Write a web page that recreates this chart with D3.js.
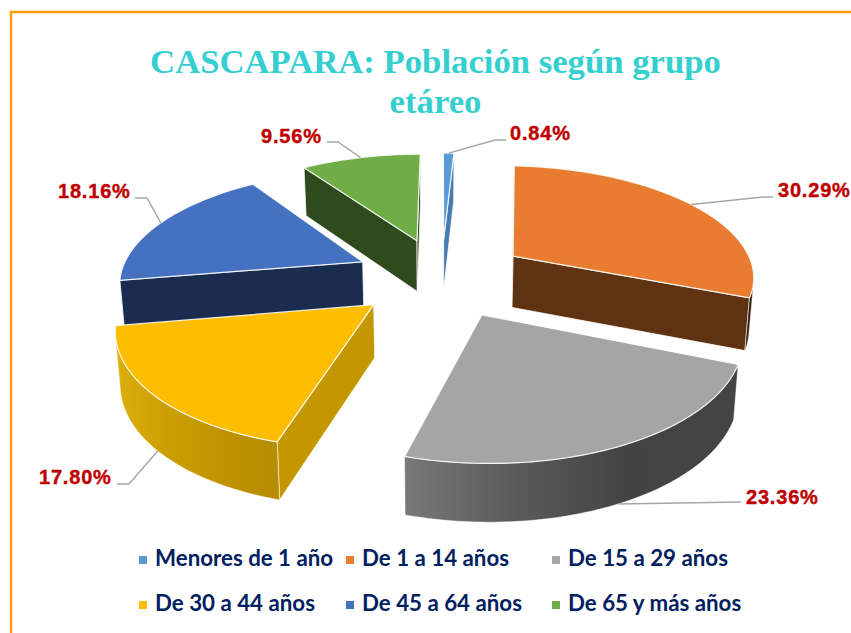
<!DOCTYPE html>
<html lang="es">
<head>
<meta charset="utf-8">
<title>CASCAPARA: Población según grupo etáreo</title>
<script src="https://cdn.jsdelivr.net/npm/d3@7"></script>
<style>
  html, body { margin: 0; background: #fff; overflow: hidden; }
  svg { display: block; }
</style>
</head>
<body>
<div id="chart"></div>
<script>
// data
const groups = ["Menores de 1 año", "De 1 a 14 años", "De 15 a 29 años", "De 30 a 44 años", "De 45 a 64 años", "De 65 y más años"];
const shares = [0.84, 30.29, 23.36, 17.80, 18.16, 9.56];
const titleLines = ["CASCAPARA: Población según grupo", "etáreo"];

// colours
const topColors = ["#5b9bd5", "#e97c30", "#a5a5a5", "#fdbd00", "#4472c0", "#70ad47"];
const wallColors = ["#4a7bb0", "#5f3312", "#5a5a5a", "#c49600", "#1a2c50", "#2f4a1c"];
const rimStops = [
  ["#4a7bb0", "#4a7bb0"],
  ["#3a2008", "#2a1606"],
  ["#787878", "#5a5a5a", "#434343", "#444444"],
  ["#dcae0c", "#cb9e02", "#bf9300", "#b58c00"],
  ["#1a2c50", "#1a2c50"],
  ["#2f4a1c", "#2f4a1c"]
];

const width = 851;
const height = 633;

// projection of the tilted pie: plan coords (x right, y away from viewer), radius 1
const view = { cx: 441.5, cy: 277, a: 243, b: 111, persp: 0.16, explode: 0.36 };
const wallShrink = 0.985;

const perspective = y => 1 / (1 + view.persp * y);
const project = ([x, y]) => {
  const s = perspective(y);
  return [view.cx + view.a * x * s, view.cy - view.b * y * s];
};
// same point pushed down to the bottom of the pie
const projectLow = ([x, y]) => {
  const [px, py] = project([x, y]);
  const s = perspective(y);
  return [view.cx + (px - view.cx) * wallShrink, py + 27 + 25 * s];
};

const pie = d3.pie().sort(null).value(d => d);
const arcs = pie(shares);

const svg = d3.select("#chart").append("svg")
  .attr("width", width)
  .attr("height", height)
  .attr("viewBox", `0 0 ${width} ${height}`);

const defs = svg.append("defs");

// frame, runs off the right and bottom like the original
svg.append("rect")
  .attr("x", 11).attr("y", 12)
  .attr("width", width + 40).attr("height", height + 40)
  .attr("fill", "#fff")
  .attr("stroke", "#ff9900")
  .attr("stroke-width", 2.4);

// title
svg.append("g").selectAll("text")
  .data(titleLines)
  .join("text")
    .attr("x", 435.5)
    .attr("y", (d, i) => 73 + i * 40)
    .attr("text-anchor", "middle")
    .attr("font-family", "'Liberation Serif', serif")
    .attr("font-weight", "bold")
    .attr("font-size", 34.7)
    .attr("fill", "#35cfd0")
    .text(d => d);

const lineGen = d3.line();
const closed = pts => lineGen(pts) + "Z";

// one slice as plan points: apex, then rim going clockwise
const sliceGeometry = (arc) => {
  const mid = (arc.startAngle + arc.endAngle) / 2;
  const ox = view.explode * Math.sin(mid);
  const oy = view.explode * Math.cos(mid);
  const n = Math.max(2, Math.ceil((arc.endAngle - arc.startAngle) / 0.02));
  const angle = d3.scaleLinear().domain([0, n]).range([arc.startAngle, arc.endAngle]);
  const rim = d3.range(n + 1).map(i => [ox + Math.sin(angle(i)), oy + Math.cos(angle(i))]);
  return { apex: [ox, oy], rim, mid, ox, oy };
};

const quad = (p, q) => [project(p), project(q), projectLow(q), projectLow(p)];

// back slices first
const drawOrder = [0, 5, 1, 4, 3, 2];
const pieGroup = svg.append("g");

drawOrder.forEach(i => {
  const geo = sliceGeometry(arcs[i]);
  const g = pieGroup.append("g");

  // flat walls, only the ones that face the viewer
  const walls = [quad(geo.apex, geo.rim[0]), quad(geo.rim[geo.rim.length - 1], geo.apex)];
  walls.filter(w => d3.polygonArea(w) > 0).forEach(w => {
    g.append("path")
      .attr("d", closed(w))
      .attr("fill", wallColors[i])
      .attr("stroke", "#fff")
      .attr("stroke-opacity", 0.75)
      .attr("stroke-width", 1)
      .attr("stroke-linejoin", "round");
  });

  // curved wall, visible part of the rim
  const front = [];
  d3.pairs(geo.rim).forEach(([p, q]) => {
    if (d3.polygonArea(quad(p, q)) > 0) {
      if (!front.length) front.push(p);
      front.push(q);
    }
  });
  if (front.length) {
    const outline = front.map(project).concat(front.slice().reverse().map(projectLow));
    const xs = d3.extent(outline, d => d[0]);
    const gradId = `rim${i}`;
    const stops = rimStops[i];
    defs.append("linearGradient")
      .attr("id", gradId)
      .attr("gradientUnits", "userSpaceOnUse")
      .attr("x1", xs[0]).attr("x2", xs[1])
      .attr("y1", 0).attr("y2", 0)
      .selectAll("stop")
      .data(stops)
      .join("stop")
        .attr("offset", (d, k) => k / (stops.length - 1))
        .attr("stop-color", d => d);
    g.append("path")
      .attr("d", closed(outline))
      .attr("fill", `url(#${gradId})`)
      .attr("stroke", "#fff")
      .attr("stroke-opacity", 0.6)
      .attr("stroke-width", 0.8);
  }

  // top face
  g.append("path")
    .attr("d", closed([geo.apex].concat(geo.rim).map(project)))
    .attr("fill", topColors[i])
    .attr("stroke", "#fff")
    .attr("stroke-opacity", 0.85)
    .attr("stroke-width", 1.2)
    .attr("stroke-linejoin", "round");
});

// data labels with leader lines
const labelLayout = [
  { x: 510, y: 140, elbow: [[495, 140], [506, 140]], low: false },
  { x: 778, y: 197, elbow: [[763, 197], [773, 197]], low: false },
  { x: 746, y: 504, elbow: [[741, 502]], low: true },
  { x: 39, y: 484, elbow: [[129, 484], [117, 484]], low: true },
  { x: 58, y: 198, elbow: [[147, 198], [135, 198]], low: false },
  { x: 261, y: 143, elbow: [[338, 142], [327, 142]], low: false }
];

const labelGroup = svg.append("g");
const pct = d3.format(".2f");

arcs.forEach((arc, i) => {
  const geo = sliceGeometry(arc);
  const rimPoint = [geo.ox + Math.sin(geo.mid), geo.oy + Math.cos(geo.mid)];
  const start = labelLayout[i].low ? projectLow(rimPoint) : project(rimPoint);
  labelGroup.append("path")
    .attr("d", lineGen([start].concat(labelLayout[i].elbow)))
    .attr("fill", "none")
    .attr("stroke", "#a6a6a6")
    .attr("stroke-width", 1.4);
  labelGroup.append("text")
    .attr("x", labelLayout[i].x)
    .attr("y", labelLayout[i].y)
    .attr("font-family", "'Liberation Sans', Arial, sans-serif")
    .attr("font-weight", "bold")
    .attr("font-size", 20)
    .attr("letter-spacing", 0.8)
    .attr("fill", "#c00000")
    .attr("stroke", "#c00000")
    .attr("stroke-width", 0.4)
    .text(`${pct(shares[i])}%`);
});

// legend, 3 columns x 2 rows
const legendX = [139, 346, 552];
const legendY = [566, 611];
const legend = svg.append("g").selectAll("g")
  .data(groups)
  .join("g")
    .attr("transform", (d, i) => `translate(${legendX[i % 3]}, ${legendY[Math.floor(i / 3)]})`);

legend.append("rect")
  .attr("x", 0).attr("y", -10)
  .attr("width", 8).attr("height", 8)
  .attr("fill", (d, i) => topColors[i]);

legend.append("text")
  .attr("x", 16)
  .attr("font-family", "Lato, 'Open Sans', sans-serif")
  .attr("font-weight", "bold")
  .attr("font-size", 22.3)
  .attr("fill", "#002060")
  .text(d => d);
</script>
</body>
</html>
